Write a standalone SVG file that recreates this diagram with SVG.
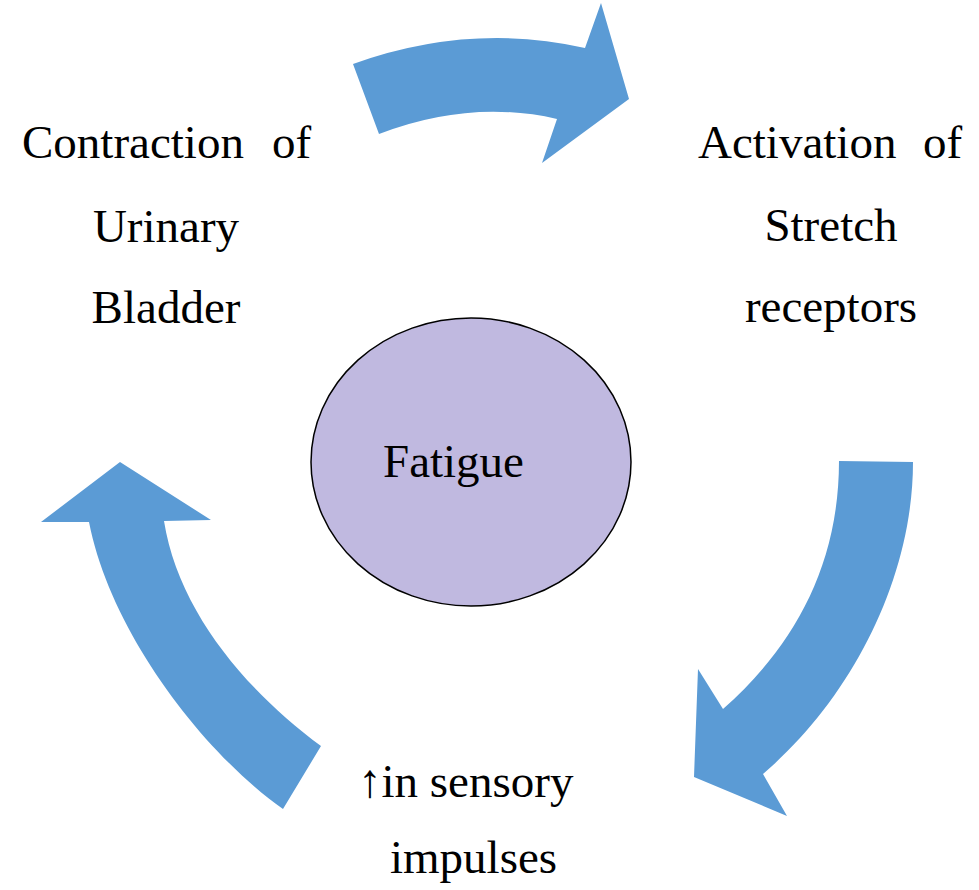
<svg xmlns="http://www.w3.org/2000/svg" width="979" height="890" viewBox="0 0 979 890">
<style>
  .arrow { fill: #5B9BD5; stroke: none; }
  .lbl { font-family: "Liberation Serif", "Times New Roman", serif; font-size: 47px; fill: #000; }
  .node-shape { fill: #C0B9E0; stroke: #000; stroke-width: 1.5; }
</style>
<rect width="979" height="890" fill="#fff"/>
<g id="connectors">
  <path id="arrow-top" class="arrow" d="M353,64 Q470,22 585,48 L601,3 L629,99 L542,163 L557,119 Q470,99 379,134 Z"/>
  <path id="arrow-right" class="arrow" d="M839,461 L913,462 C913,580 850,700 763,774 L787,816 L694,777 L698,669 L723,709 C790,650 839,570 839,461 Z"/>
  <path id="arrow-left" class="arrow" d="M283,809 C200,750 110,630 89,522 L41,522 L120,462 L211,520 L164,521 C178,610 245,690 321,746 Z"/>
</g>
<g id="node-fatigue">
  <ellipse class="node-shape" cx="471" cy="462" rx="160" ry="144"/>
  <text class="lbl" x="383" y="477">Fatigue</text>
</g>
<g id="node-contraction">
  <text class="lbl" x="22" y="158">Contraction</text>
  <text class="lbl" x="272" y="158">of</text>
  <text class="lbl" x="166" y="242" text-anchor="middle">Urinary</text>
  <text class="lbl" x="166" y="323" text-anchor="middle">Bladder</text>
</g>
<g id="node-activation">
  <text class="lbl" x="698" y="158">Activation</text>
  <text class="lbl" x="923" y="158">of</text>
  <text class="lbl" x="831" y="241" text-anchor="middle">Stretch</text>
  <text class="lbl" x="831" y="322" text-anchor="middle">receptors</text>
</g>
<g id="node-impulses">
  <text class="lbl" x="358" y="797">↑in sensory</text>
  <text class="lbl" x="390" y="873">impulses</text>
</g>
</svg>
